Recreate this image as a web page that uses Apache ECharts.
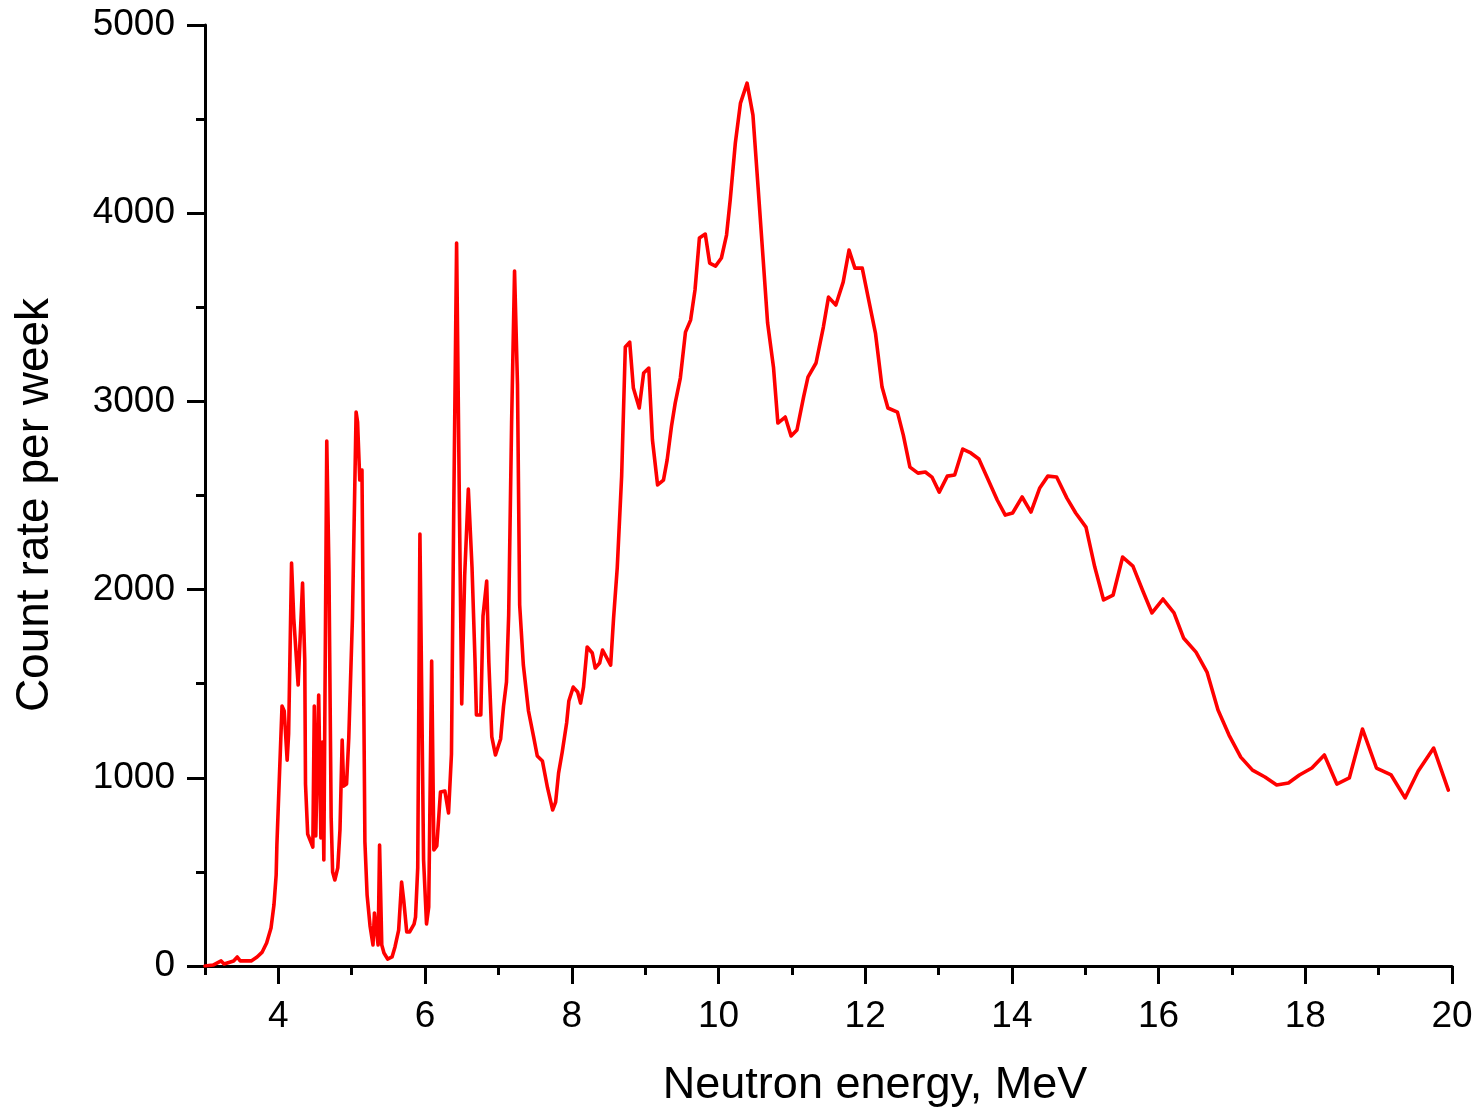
<!DOCTYPE html>
<html>
<head>
<meta charset="utf-8">
<script src="https://cdn.jsdelivr.net/npm/echarts@6.0.0/dist/echarts.min.js"></script>
<style>
html,body{margin:0;padding:0;background:#fff;}
#chart{width:1484px;height:1111px;}
</style>
</head>
<body>
<div id="chart"></div>
<script>
// Neutron energy (MeV)
var energy = [
  3.00,3.11,3.22,3.26,3.39,3.44,3.48,3.63,3.71,3.78,
  3.84,3.90,3.94,3.97,3.98,4.01,4.05,4.08,4.12,4.14,
  4.18,4.21,4.27,4.29,4.33,4.36,4.37,4.40,4.47,4.49,
  4.51,4.55,4.58,4.60,4.62,4.66,4.69,4.72,4.74,4.77,
  4.81,4.84,4.87,4.89,4.93,4.96,5.01,5.06,5.08,5.11,
  5.14,5.18,5.21,5.25,5.29,5.31,5.36,5.38,5.41,5.44,
  5.49,5.55,5.59,5.64,5.68,5.71,5.75,5.79,5.85,5.87,
  5.90,5.93,5.98,6.02,6.05,6.09,6.12,6.16,6.21,6.27,
  6.32,6.36,6.39,6.43,6.47,6.50,6.54,6.59,6.64,6.68,
  6.70,6.76,6.79,6.84,6.87,6.91,6.96,7.03,7.07,7.11,
  7.14,7.18,7.22,7.26,7.29,7.34,7.41,7.48,7.53,7.60,
  7.67,7.74,7.78,7.82,7.87,7.93,7.96,8.02,8.08,8.12,
  8.16,8.21,8.28,8.32,8.38,8.42,8.53,8.57,8.62,8.68,
  8.73,8.79,8.84,8.92,8.98,9.05,9.10,9.17,9.25,9.30,
  9.36,9.41,9.48,9.55,9.62,9.68,9.74,9.82,9.88,9.96,
  10.04,10.11,10.16,10.23,10.30,10.39,10.47,10.54,10.61,10.67,
  10.75,10.81,10.91,10.99,11.07,11.16,11.22,11.33,11.43,11.50,
  11.60,11.70,11.78,11.86,11.96,12.04,12.14,12.23,12.31,12.44,
  12.52,12.61,12.72,12.82,12.91,13.01,13.12,13.22,13.33,13.44,
  13.55,13.66,13.80,13.91,14.01,14.14,14.26,14.38,14.49,14.61,
  14.75,14.87,15.01,15.13,15.25,15.38,15.51,15.65,15.78,15.91,
  16.06,16.21,16.34,16.51,16.66,16.81,16.96,17.12,17.28,17.45,
  17.61,17.77,17.92,18.09,18.26,18.43,18.60,18.78,18.97,19.17,
  19.36,19.54,19.75,19.95
];
// Count rate per week
var counts = [
  0,5,27,11,27,48,27,27,48,74,
  122,202,324,483,643,962,1381,1355,1094,1233,
  2141,1849,1493,1679,2035,1626,967,701,632,1381,
  691,1440,680,1190,563,2789,2093,786,499,457,
  521,723,1201,956,967,1211,1849,2943,2890,2582,
  2635,659,377,213,112,282,112,643,112,69,
  37,48,101,191,446,345,181,181,223,260,
  521,2295,563,223,313,1620,616,638,924,930,
  813,1126,2380,3841,2380,1392,2072,2534,2120,1636,
  1334,1334,1860,2045,1610,1217,1121,1206,1381,1509,
  1865,2890,3693,3092,1918,1599,1355,1217,1116,1089,
  946,829,871,1025,1137,1291,1408,1482,1456,1397,
  1482,1695,1663,1583,1610,1679,1599,1849,2115,2603,
  3289,3315,3071,2965,3151,3177,2795,2556,2582,2688,
  2869,2991,3124,3368,3432,3592,3868,3889,3735,3719,
  3762,3884,4070,4373,4585,4691,4521,4139,3751,3416,
  3182,2885,2917,2816,2848,3023,3129,3204,3395,3554,
  3512,3634,3804,3708,3708,3554,3363,3076,2965,2943,
  2821,2651,2619,2625,2598,2518,2603,2609,2747,2726,
  2694,2598,2476,2396,2407,2492,2412,2540,2603,2598,
  2486,2407,2332,2120,1945,1971,2173,2125,1998,1876,
  1950,1876,1743,1668,1562,1360,1227,1110,1041,1004,
  962,972,1015,1052,1121,967,999,1259,1052,1015,
  893,1036,1158,935
];
var xMajorTicks = [4,6,8,10,12,14,16,18,20];
var xMinorTicks = [3,5,7,9,11,13,15,17,19];
var yTicks = [0,1000,2000,3000,4000,5000];
var xTitle = 'Neutron energy, MeV';
var yTitle = 'Count rate per week';

var FONT = '"Liberation Sans", Arial, Helvetica, sans-serif';
var data = energy.map(function(e, i){ return [e, counts[i]]; });

var chart = echarts.init(document.getElementById('chart'), null, {renderer:'canvas'});
chart.setOption({
  animation: false,
  backgroundColor: '#ffffff',
  grid: {left: 205, right: 32, top: 25, bottom: 145, containLabel: false},
  xAxis: [{
    type: 'value', min: 3, max: 20, position: 'bottom',
    axisLine: {show: true, onZero: false, lineStyle: {color: '#000', width: 3}},
    axisTick: {show: true, inside: false, length: 18, lineStyle: {color: '#000', width: 3}, customValues: xMajorTicks},
    axisLabel: {show: true, customValues: xMajorTicks, color: '#000', fontSize: 37, fontFamily: FONT, margin: 32},
    splitLine: {show: false}
  }, {
    type: 'value', min: 3, max: 20, position: 'bottom', offset: 0,
    axisLine: {show: false},
    axisTick: {show: true, inside: false, length: 9, lineStyle: {color: '#000', width: 3}, customValues: xMinorTicks},
    axisLabel: {show: false},
    splitLine: {show: false}
  }],
  yAxis: {
    type: 'value', min: 0, max: 5000, interval: 1000,
    axisLine: {show: true, onZero: false, lineStyle: {color: '#000', width: 3}},
    axisTick: {show: true, inside: false, length: 18, lineStyle: {color: '#000', width: 3}},
    minorTick: {show: true, splitNumber: 2, length: 9, lineStyle: {color: '#000', width: 3}},
    axisLabel: {color: '#000', fontSize: 37, fontFamily: FONT, margin: 30,
      formatter: function(v){ return yTicks.indexOf(v) >= 0 ? String(v) : ''; }},
    splitLine: {show: false},
    minorSplitLine: {show: false}
  },
  series: [{
    type: 'line', xAxisIndex: 0, data: data,
    showSymbol: false, symbol: 'none', smooth: false,
    lineStyle: {color: '#ff0000', width: 3.6, join: 'round', cap: 'round'},
    itemStyle: {color: '#ff0000'}
  }],
  graphic: [{
    type: 'text', x: 875, y: 1086,
    style: {text: xTitle, fontSize: 45, fontFamily: FONT, fill: '#000', align: 'center', verticalAlign: 'middle'}
  }, {
    type: 'text', x: 35, y: 505, rotation: Math.PI / 2,
    style: {text: yTitle, fontSize: 46, fontFamily: FONT, fill: '#000', align: 'center', verticalAlign: 'middle'}
  }]
});
</script>
</body>
</html>
